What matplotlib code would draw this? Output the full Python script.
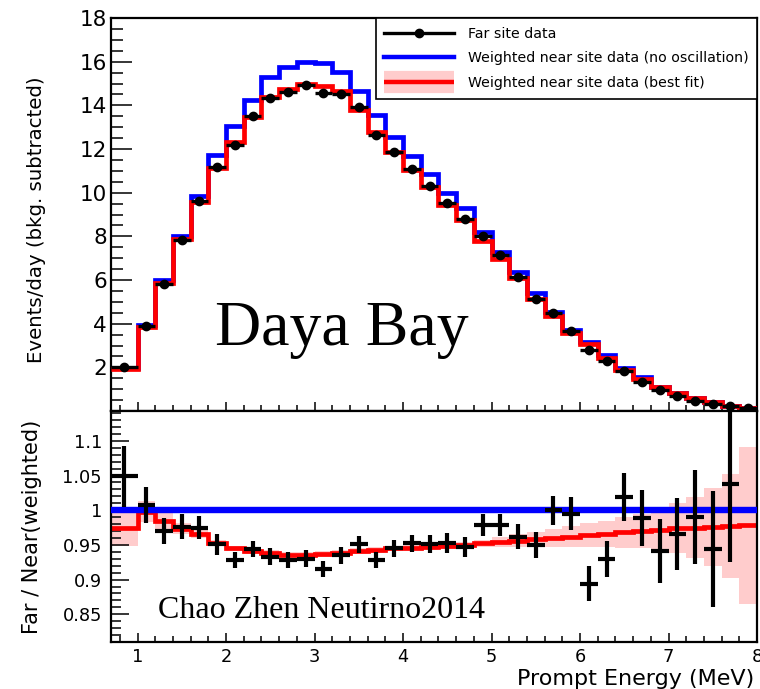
import numpy as np
import matplotlib
matplotlib.use("Agg")
import matplotlib.pyplot as plt
from matplotlib.lines import Line2D
from matplotlib.ticker import MultipleLocator, FuncFormatter

# Prompt-energy binning (MeV)
bin_edges = [0.7, 1.0, 1.2, 1.4, 1.6, 1.8, 2.0, 2.2, 2.4, 2.6, 2.8, 3.0, 3.2,
             3.4, 3.6, 3.8, 4.0, 4.2, 4.4, 4.6, 4.8, 5.0, 5.2, 5.4, 5.6, 5.8,
             6.0, 6.2, 6.4, 6.6, 6.8, 7.0, 7.2, 7.4, 7.6, 7.8, 8.0]

# Events/day, background subtracted
far_rate = [2.03, 3.89, 5.80, 7.83, 9.63, 11.19, 12.19, 13.51, 14.32, 14.60,
            14.93, 14.55, 14.50, 13.94, 12.64, 11.88, 11.07, 10.31, 9.54, 8.78,
            8.02, 7.15, 6.15, 5.12, 4.50, 3.66, 2.79, 2.29, 1.85, 1.34,
            0.96, 0.70, 0.47, 0.31, 0.23, 0.12]
near_noosc = [1.98, 3.95, 6.00, 8.03, 9.85, 11.73, 13.06, 14.25, 15.31, 15.77,
              16.00, 15.92, 15.54, 14.65, 13.56, 12.57, 11.66, 10.86, 9.97, 9.28,
              8.18, 7.30, 6.38, 5.39, 4.55, 3.71, 3.17, 2.57, 1.96, 1.54,
              1.12, 0.84, 0.60, 0.40, 0.24, 0.13]
near_bestfit = [1.93, 3.83, 5.87, 7.87, 9.55, 11.12, 12.33, 13.45, 14.38, 14.75,
                14.97, 14.90, 14.65, 13.80, 12.80, 11.88, 11.03, 10.27, 9.45, 8.77,
                7.80, 6.98, 6.08, 5.15, 4.36, 3.57, 3.05, 2.45, 1.89, 1.48,
                1.09, 0.81, 0.58, 0.39, 0.23, 0.13]

# Far / Near(weighted): best-fit prediction and its uncertainty band
ratio_fit = [0.975, 0.998, 0.984, 0.973, 0.966, 0.953, 0.945, 0.941, 0.938, 0.936,
             0.936, 0.937, 0.939, 0.941, 0.943, 0.945, 0.946, 0.947, 0.948, 0.950,
             0.952, 0.954, 0.956, 0.958, 0.960, 0.962, 0.964, 0.966, 0.968, 0.970,
             0.972, 0.974, 0.975, 0.976, 0.977, 0.978]
ratio_fit_err = [0.026, 0.015, 0.012, 0.008, 0.006, 0.004, 0.004, 0.004, 0.004, 0.004,
                 0.004, 0.004, 0.004, 0.004, 0.004, 0.004, 0.004, 0.004, 0.004, 0.004,
                 0.005, 0.007, 0.009, 0.011, 0.013, 0.015, 0.017, 0.019, 0.022, 0.025,
                 0.030, 0.036, 0.044, 0.056, 0.075, 0.113]

# Far / Near(weighted): measured ratio
ratio_data = [1.049, 1.008, 0.970, 0.976, 0.975, 0.951, 0.928, 0.944, 0.933, 0.928,
              0.930, 0.915, 0.935, 0.951, 0.928, 0.945, 0.952, 0.951, 0.953, 0.947,
              0.979, 0.979, 0.962, 0.950, 1.000, 0.995, 0.894, 0.929, 1.019, 0.989,
              0.941, 0.966, 0.990, 0.944, 1.038]
ratio_data_err = [0.044, 0.026, 0.019, 0.018, 0.017, 0.015, 0.012, 0.012, 0.012, 0.012,
                  0.012, 0.012, 0.012, 0.012, 0.012, 0.012, 0.012, 0.013, 0.014, 0.015,
                  0.016, 0.016, 0.018, 0.019, 0.021, 0.024, 0.025, 0.026, 0.034, 0.040,
                  0.046, 0.052, 0.068, 0.084, 0.113]

edges = np.array(bin_edges)
centers = 0.5 * (edges[:-1] + edges[1:])
halfw = 0.5 * np.diff(edges)
fit = np.array(ratio_fit)
fit_err = np.array(ratio_fit_err)
n_ratio = len(ratio_data)

plt.rcParams['font.family'] = ['DejaVu Sans']

W_PX, H_PX = 760, 689
fig = plt.figure(figsize=(W_PX / 100, H_PX / 100), dpi=100)
left, right = 111, 757
ax1 = fig.add_axes([left / W_PX, 1 - 411 / H_PX, (right - left) / W_PX, 393 / H_PX])
ax2 = fig.add_axes([left / W_PX, 1 - 642 / H_PX, (right - left) / W_PX, 231 / H_PX],
                   sharex=ax1)

BLUE, RED, PINK = '#0000ff', '#ff0000', '#ffcccc'

# ---- spectrum panel ----
ax1.stairs(near_noosc, edges, color=BLUE, lw=3.4, baseline=None, zorder=2)
ax1.stairs(near_bestfit, edges, color=RED, lw=3.4, baseline=None, zorder=3)
ax1.errorbar(centers, far_rate, xerr=halfw, fmt='o', color='k', ms=6,
             elinewidth=2.4, capsize=0, zorder=4)

ax1.set_xlim(0.7, 8.0)
ax1.set_ylim(0, 18)
ax1.set_yticks(np.arange(2, 19, 2))
ax1.yaxis.set_minor_locator(MultipleLocator(0.5))
ax1.xaxis.set_major_locator(MultipleLocator(1))
ax1.xaxis.set_minor_locator(MultipleLocator(0.2))
ax1.tick_params(axis='y', which='major', length=15, width=1.1, labelsize=15.5, pad=3)
ax1.tick_params(axis='y', which='minor', length=8.5, width=1.1)
ax1.tick_params(axis='x', which='major', length=6.5, width=1.1)
ax1.tick_params(axis='x', which='minor', length=4, width=1.1)
ax1.tick_params(which='both', direction='in', top=False, right=False, labelbottom=False)

ax1.set_ylabel('Events/day (bkg. subtracted)', fontsize=14.2)
ax1.yaxis.label.set(va='center', ha='center', rotation_mode='anchor')
ax1.yaxis.set_label_coords((36.5 - left) / (right - left), (411 - 220) / 393)

ax1.text((215 - left) / (right - left), (411 - 345) / 393, 'Daya Bay',
         transform=ax1.transAxes, family='Liberation Serif', fontsize=46,
         va='baseline', ha='left')

h_far = Line2D([], [], color='k', lw=2.4, marker='o', ms=6)
h_noosc = Line2D([], [], color=BLUE, lw=3.2)
h_band = Line2D([], [], color=PINK, lw=16, solid_capstyle='butt')
h_fit = Line2D([], [], color=RED, lw=3.2, solid_capstyle='butt')
leg = ax1.legend([h_far, h_noosc, (h_band, h_fit)],
                 ['Far site data', 'Weighted near site data (no oscillation)',
                  'Weighted near site data (best fit)'],
                 loc='upper right', bbox_to_anchor=(1.0, 1.0), borderaxespad=0,
                 fontsize=10.2, numpoints=1, handlelength=4.9, handletextpad=1.0,
                 labelspacing=0.77, borderpad=0.6, fancybox=False, framealpha=1,
                 edgecolor='k')
leg.get_frame().set_linewidth(1.2)

# ---- ratio panel ----
ax2.stairs(fit + fit_err, edges, baseline=fit - fit_err, fill=True,
           color=PINK, lw=0, zorder=1)
ax2.stairs(fit, edges, color=RED, lw=3.4, baseline=None, zorder=2)
ax2.axhline(1.0, color=BLUE, lw=4.6, zorder=3)
ax2.errorbar(centers[:n_ratio], ratio_data, xerr=halfw[:n_ratio], yerr=ratio_data_err,
             fmt='none', ecolor='k', elinewidth=3.0, capsize=0, zorder=4)

ax2.set_ylim(0.81, 1.143)
ax2.yaxis.set_major_locator(MultipleLocator(0.05))
ax2.yaxis.set_minor_locator(MultipleLocator(0.01))
ax2.yaxis.set_major_formatter(FuncFormatter(lambda v, p: '%g' % round(v, 3)))
ax2.tick_params(axis='y', which='major', length=13, width=1.1, labelsize=12.8, pad=6.5)
ax2.tick_params(axis='y', which='minor', length=7, width=1.1)
ax2.tick_params(axis='x', which='major', length=6.5, width=1.1, labelsize=12.8, pad=4)
ax2.tick_params(axis='x', which='minor', length=4, width=1.1)
ax2.tick_params(which='both', direction='in', top=False, right=False)

ax2.set_ylabel('Far / Near(weighted)', fontsize=15)
ax2.yaxis.label.set(va='center', ha='center', rotation_mode='anchor')
ax2.yaxis.set_label_coords((32 - left) / (right - left), 0.5)

ax2.set_xlabel('Prompt Energy (MeV)', fontsize=16)
ax2.xaxis.label.set(ha='right', va='center')
ax2.xaxis.set_label_coords(0.995, (642 - 679) / 231)

ax2.text((158 - left) / (right - left), (642 - 618) / 231, 'Chao Zhen Neutirno2014',
         transform=ax2.transAxes, family='Liberation Serif', fontsize=23,
         va='baseline', ha='left', zorder=5)

for ax in (ax1, ax2):
    for s in ax.spines.values():
        s.set_linewidth(1.6)

fig.savefig('out.png', dpi=100)
